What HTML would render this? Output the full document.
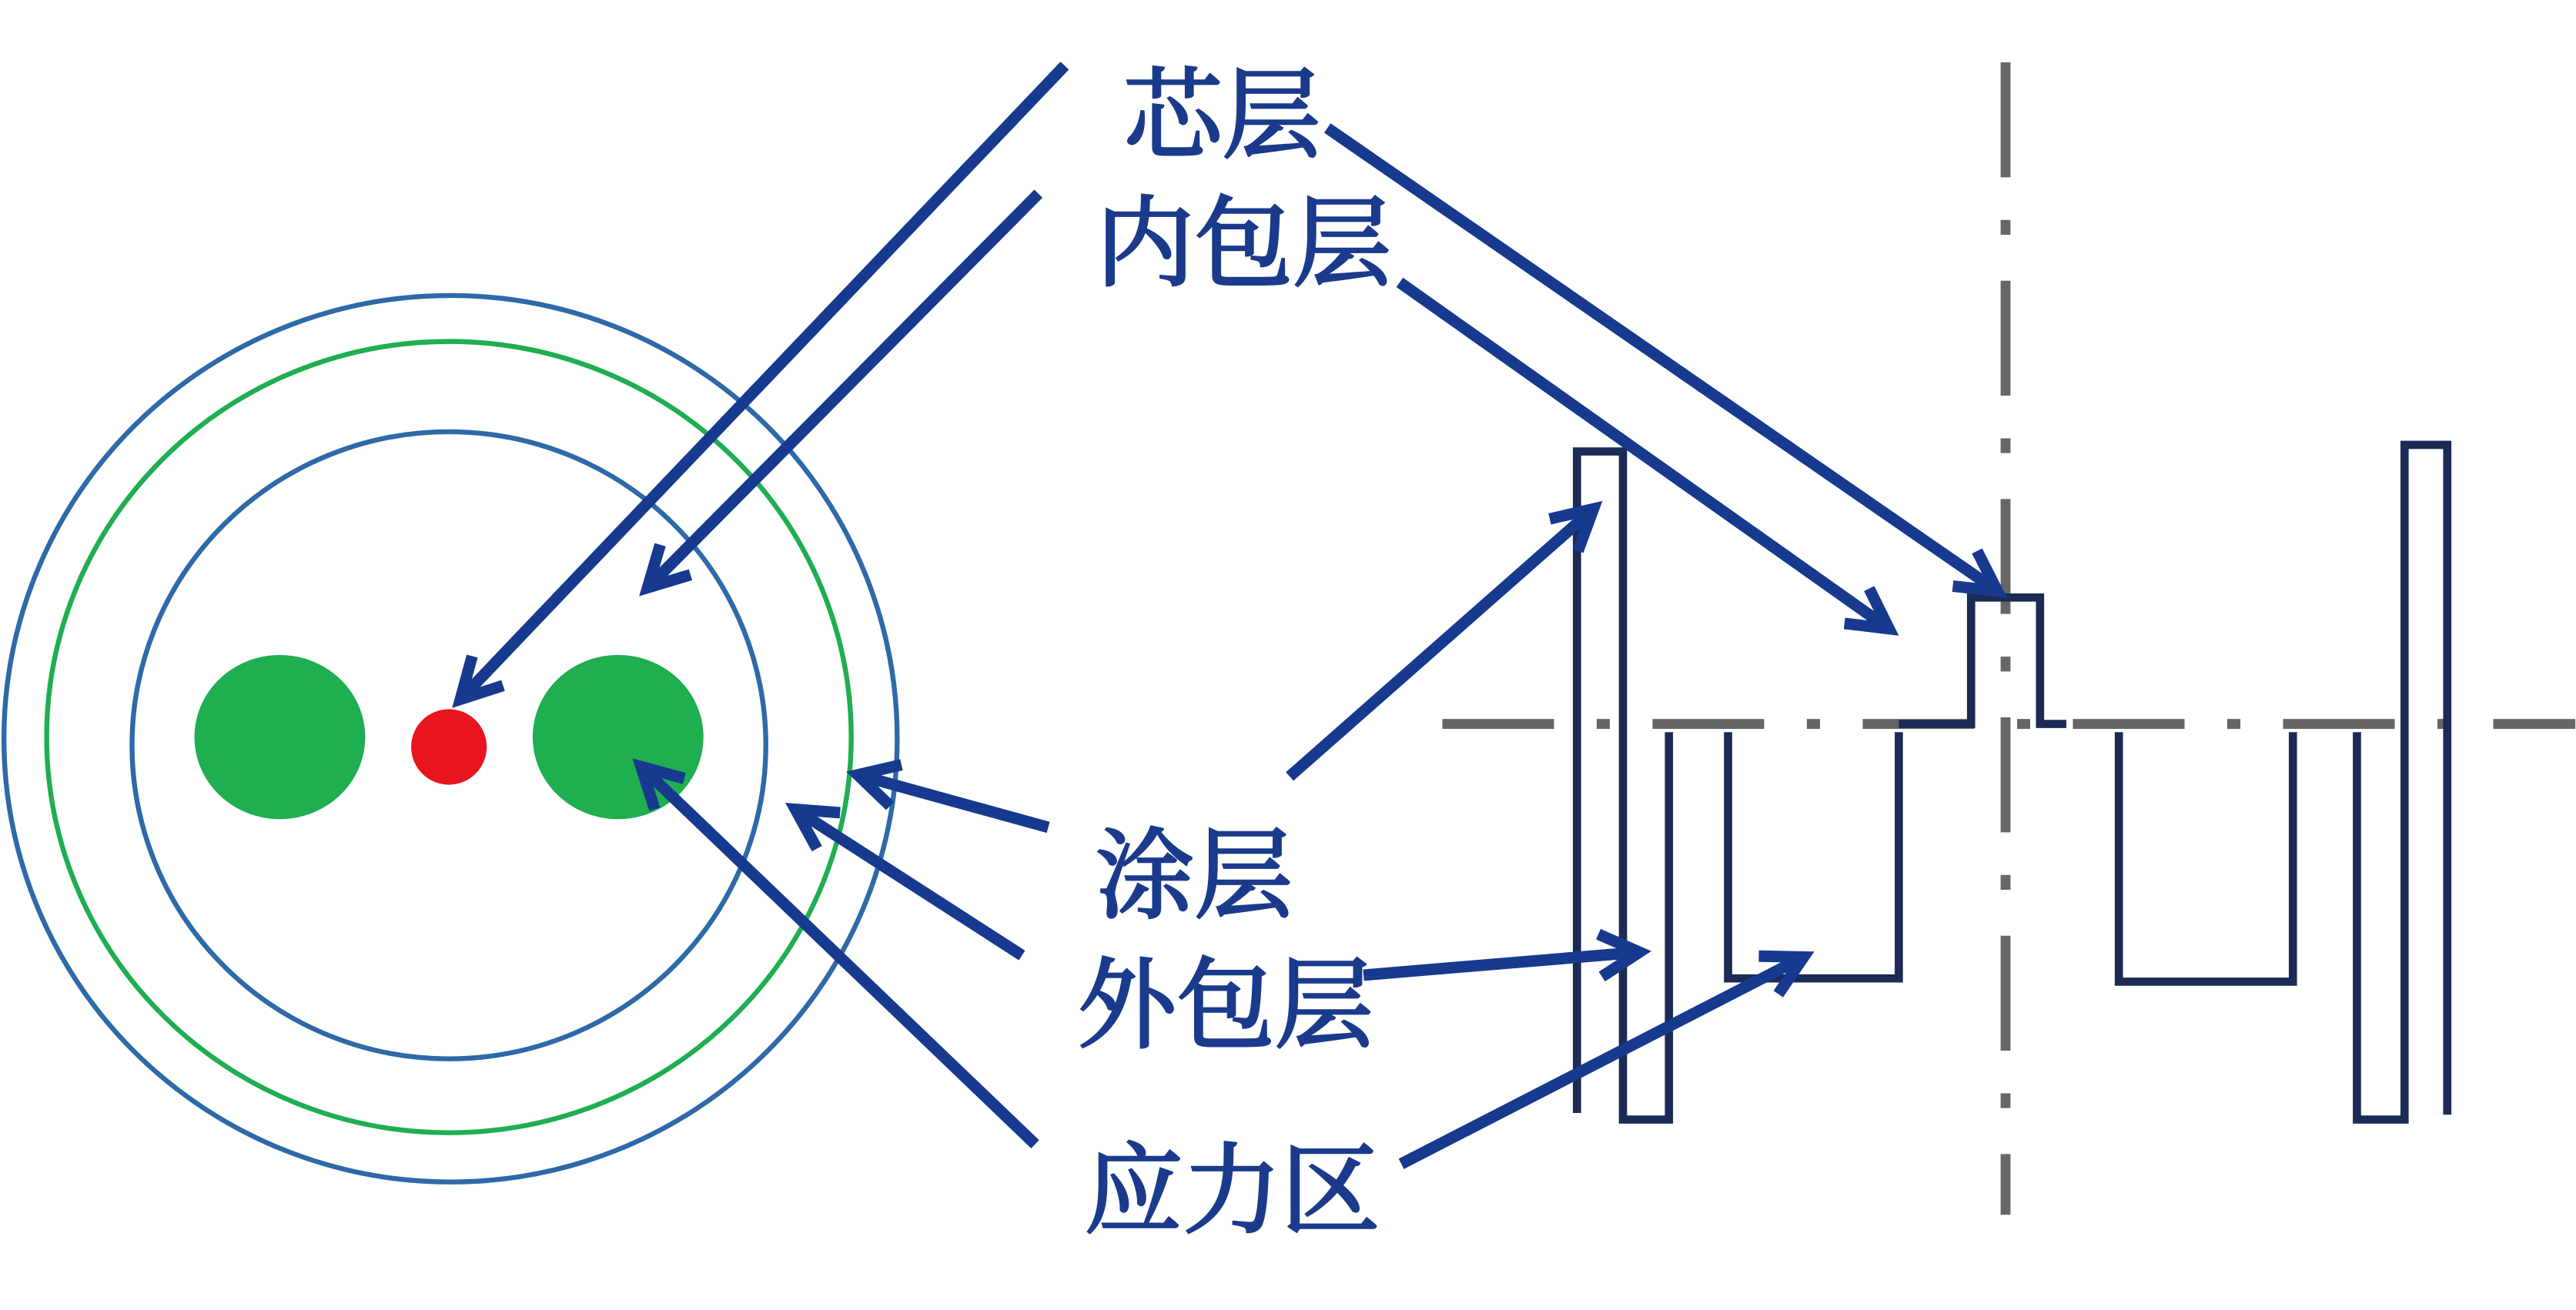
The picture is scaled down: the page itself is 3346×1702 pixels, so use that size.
<!DOCTYPE html>
<html><head><meta charset="utf-8"><style>
html,body{margin:0;padding:0;background:#fff;}
svg{display:block;}
text{font-family:"Noto Serif CJK SC","Liberation Serif",serif;fill:#1b3a8c;stroke:#1b3a8c;stroke-width:1.6;font-size:60px;}
</style></head><body>
<svg width="3346" height="1702" viewBox="0 0 1568 798" xmlns="http://www.w3.org/2000/svg">
<defs>
<marker id="a" markerWidth="40" markerHeight="40" refX="30" refY="20" orient="auto" markerUnits="userSpaceOnUse">
<path d="M6,7 L30,20 L6,33" fill="none" stroke="#173a8f" stroke-width="7" stroke-linejoin="miter"/>
</marker>
</defs>
<ellipse cx="274" cy="450" rx="272" ry="270" fill="none" stroke="#2e69a8" stroke-width="3"/>
<ellipse cx="273" cy="449" rx="245" ry="241" fill="none" stroke="#1fae50" stroke-width="3"/>
<ellipse cx="273" cy="454" rx="193" ry="191" fill="none" stroke="#2e69a8" stroke-width="3"/>
<ellipse cx="170" cy="449" rx="52" ry="50" fill="#1fae50"/>
<ellipse cx="376" cy="449" rx="52" ry="50" fill="#1fae50"/>
<circle cx="273" cy="455" r="23" fill="#e8141e"/>
<line x1="878" y1="441" x2="1568" y2="441" stroke="#666" stroke-width="6" stroke-dasharray="68 26 8 26"/>
<line x1="1221" y1="38" x2="1221" y2="740" stroke="#666" stroke-width="6" stroke-dasharray="70 26 9 28"/>
<path d="M960,678 L960,275 L988,275 L988,682 L1016,682 L1016,446 M1052,446 L1052,596 L1156,596 L1156,446 M1156,441 L1200,441 L1200,364 L1242,364 L1242,441 L1258,441 M1290,446 L1290,598 L1396,598 L1396,446 M1435,446 L1435,682 L1464,682 L1464,271 L1490,271 L1490,679" fill="none" stroke="#1c2b55" stroke-width="5"/>
<g stroke="#173a8f" stroke-width="7" fill="none" marker-end="url(#a)">
<line x1="648" y1="40" x2="280" y2="426"/>
<line x1="632" y1="118" x2="394" y2="358"/>
<line x1="785" y1="473" x2="970" y2="310"/>
<line x1="638" y1="504" x2="522" y2="472"/>
<line x1="622" y1="582" x2="484" y2="493"/>
<line x1="830" y1="594" x2="998" y2="580"/>
<line x1="630" y1="697" x2="390" y2="467"/>
<line x1="853" y1="709" x2="1098" y2="583"/>
<line x1="808" y1="78" x2="1216" y2="360"/>
<line x1="852" y1="172" x2="1150" y2="383"/>
</g>
<text x="684" y="91">芯层</text>
<text x="667" y="169">内包层</text>
<text x="667" y="554">涂层</text>
<text x="656" y="633">外包层</text>
<text x="660" y="746">应力区</text>
</svg>
</body></html>
